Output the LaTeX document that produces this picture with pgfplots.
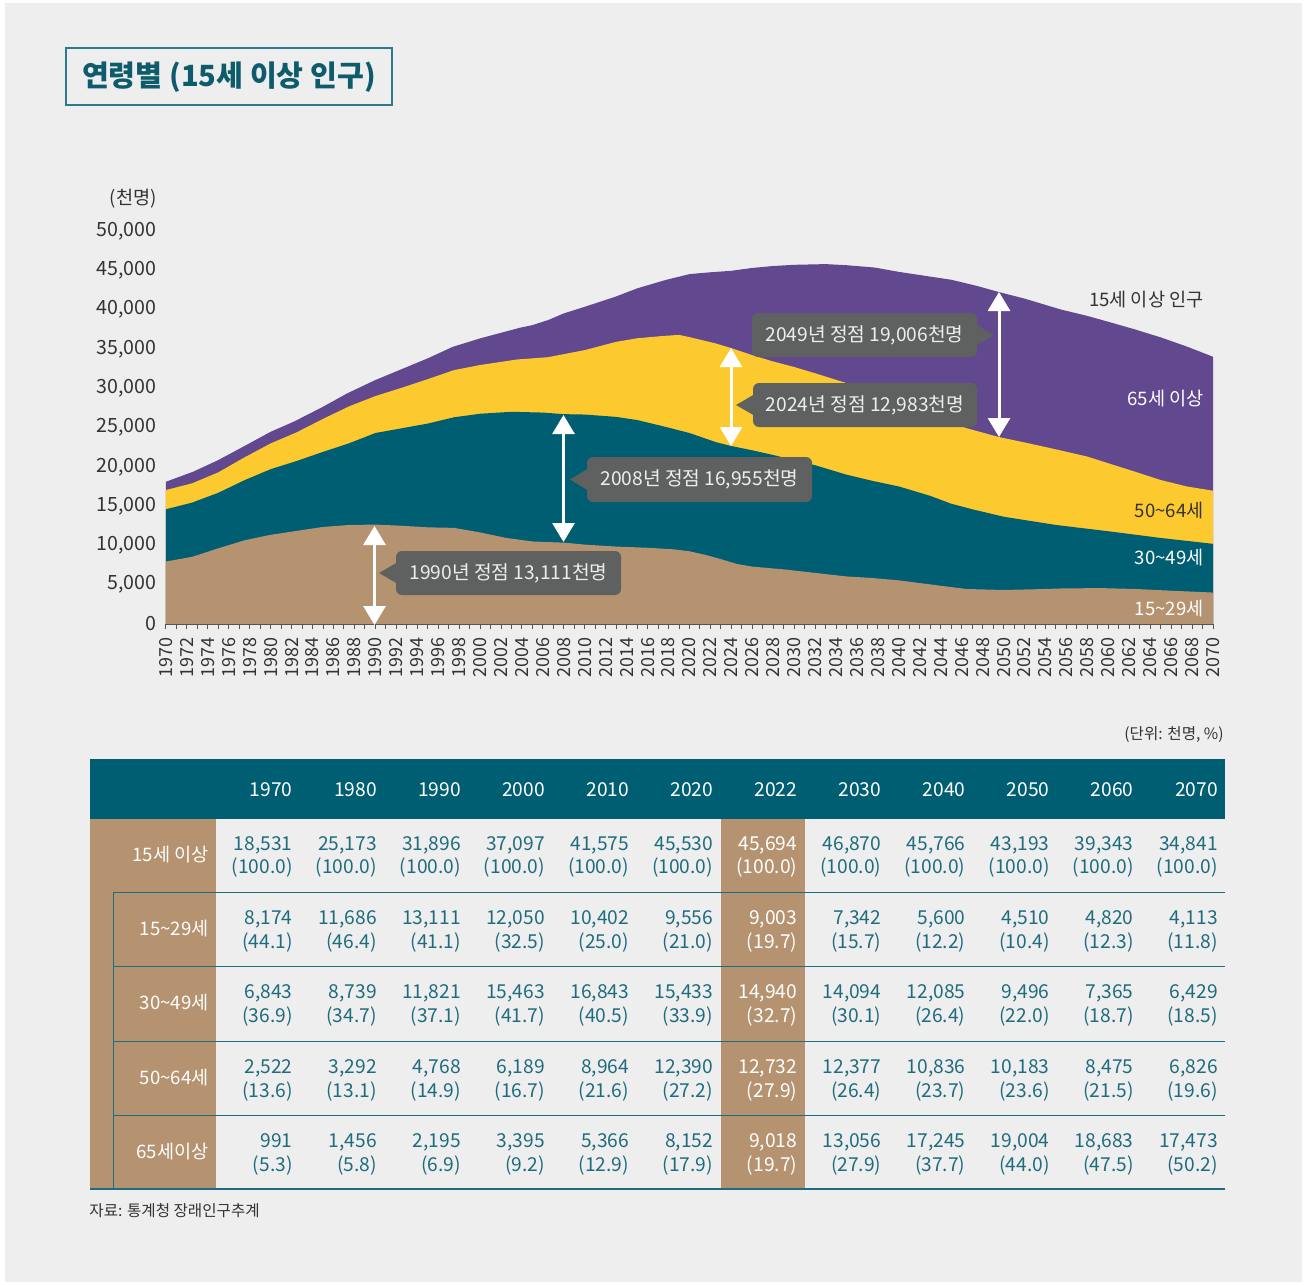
\documentclass[border=0pt]{standalone}
\usepackage{pgfplots}
\pgfplotsset{compat=1.18}
\usepackage{fontspec}
\setmainfont{Noto Sans CJK KR}
\usetikzlibrary{arrows.meta}

\definecolor{bg}{HTML}{EEEEEE}
\definecolor{cA}{HTML}{B59370}
\definecolor{cB}{HTML}{005E72}
\definecolor{cC}{HTML}{FCC92E}
\definecolor{cD}{HTML}{62488F}
\definecolor{boxg}{HTML}{5F6160}
\definecolor{boxt}{HTML}{EDEDED}
\definecolor{txt}{HTML}{333333}
\definecolor{numc}{HTML}{1F6C7F}
\definecolor{ttl}{HTML}{0E5B6C}
\definecolor{ttlb}{HTML}{2B7B8C}
\definecolor{axc}{HTML}{555555}

\newcommand\fnum{\fontsize{9.6}{11}\selectfont}
\newcommand\flab{\fontsize{9.3}{11}\selectfont}
\newcommand\fsm{\fontsize{7.8}{9}\selectfont}
\newcommand\tl{{\char"007E}}

\newcommand\trow[4]{%
  \foreach \v [count=\i] in {#3} {%
    \ifnum\i=7 \def\cc{white}\else\def\cc{numc}\fi
    \node[anchor=base east, inner sep=0pt, text=\cc, font=\fnum] at ({208.9+84.1*\i},#1) {\v};
  }%
  \foreach \v [count=\i] in {#4} {%
    \ifnum\i=7 \def\cc{white}\else\def\cc{numc}\fi
    \node[anchor=base east, inner sep=0pt, text=\cc, font=\fnum] at ({208.9+84.1*\i},#2) {(\v)};
  }%
}

\begin{document}
\begin{tikzpicture}
\begin{scope}[x=0.5pt,y=-0.5pt]
\useasboundingbox (0,0) rectangle (1307,1285);
\fill[white] (0,0) rectangle (1307,1285);
\fill[bg] (5,3) rectangle (1302,1282);
% title
\draw[ttlb, line width=0.75pt] (66,48) rectangle (392,105);
\node[font=\bfseries\fontsize{14.6}{16}\selectfont, text=ttl] at (229,77) {연령별 (15세 이상 인구)};
% unit
\node[anchor=east, inner sep=0pt, font=\flab, text=txt] at (157,199) {(천명)};
\end{scope}

\begin{axis}[
  at={(83pt,-312pt)}, anchor=south west,
  scale only axis, width=523.5pt, height=196.5pt,
  xmin=1970, xmax=2070, ymin=0, ymax=50000,
  clip=false, axis on top,
  axis x line*=bottom, axis y line*=left,
  x axis line style={-, draw=axc, line width=0.5pt},
  y axis line style={draw=none},
  xtick={1970,1972,...,2070},
  minor xtick={1971,1973,...,2069},
  ytick={0,5000,...,50000},
  scaled y ticks=false,
  tick align=outside,
  major tick length=2.5pt, minor tick length=2.5pt,
  every tick/.style={axc, line width=0.5pt},
  ytick style={draw=none},
  /pgf/number format/assume math mode=true,
  tick label style={text=txt},
  xticklabel style={rotate=90, anchor=east, inner sep=0pt, font=\fontsize{9}{10}\selectfont, /pgf/number format/1000 sep={}},
  yticklabel style={anchor=east, inner sep=0pt, font=\fontsize{9.8}{11}\selectfont, /pgf/number format/1000 sep={,}},
  xticklabel shift=4pt,
  yticklabel shift=2pt,
]
% total (15+)
\addplot[draw=none, fill=cD] coordinates {
(1970,18100) (1972.6,19380) (1975,20860) (1977.5,22650) (1980,24460) (1982.2,25740)
(1985,27640) (1987.3,29340) (1990,31040) (1992.3,32310) (1995,33800) (1997.4,35270)
(2000,36340) (2003.8,37690) (2005,38030) (2006.5,38670) (2008,39520) (2010,40360)
(2012.9,41630) (2015,42700) (2017.7,43760) (2020,44520) (2022,44750) (2024,44940)
(2026,45300) (2028,45550) (2030,45700) (2033,45790) (2035,45650) (2037.7,45350)
(2040,44800) (2042.5,44300) (2045,43800) (2047.5,43000) (2049.5,42250) (2052,41400)
(2055.5,40000) (2058,39200) (2060,38450) (2062.5,37500) (2065,36470) (2067.5,35300)
(2070,34000)} \closedcycle;
% 15-64 cumulative
\addplot[draw=none, fill=cC] coordinates {
(1970,17050) (1972.5,17900) (1975,19300) (1977.5,21200) (1980,22980) (1982.5,24400)
(1985,26100) (1987.5,27700) (1990,29000) (1992.5,30050) (1995,31150) (1997.5,32300)
(2000,32950) (2003.5,33650) (2006.5,33950) (2010,34850) (2013,35900) (2015,36350)
(2017.5,36650) (2019,36780) (2020,36500) (2022.5,35700) (2024,35100) (2026,34200)
(2028,33400) (2030,32700) (2032,31900) (2035,30650) (2037.5,29300) (2040,27900)
(2043,26500) (2046.5,24900) (2049.5,23800) (2052,23100) (2055,22220) (2058,21300)
(2060,20450) (2062.5,19400) (2065,18320) (2067.5,17500) (2070,16960)} \closedcycle;
% 15-49 cumulative
\addplot[draw=none, fill=cB] coordinates {
(1970,14600) (1972.5,15450) (1975,16700) (1977.5,18300) (1980,19700) (1982.5,20750)
(1985,21900) (1987.5,23000) (1990,24300) (1992.5,24900) (1995,25500) (1997.5,26300)
(2000,26750) (2003,27000) (2006,26900) (2008,26700) (2010,26650) (2013,26350)
(2015,25950) (2017.5,25150) (2020,24300) (2022.5,23150) (2024,22640) (2026,22100)
(2028,21500) (2030,20860) (2032,20200) (2035,19000) (2037.5,18200) (2040,17500)
(2043,16300) (2045,15300) (2047,14600) (2050,13650) (2055,12600) (2060,11800)
(2065,10950) (2070,10200)} \closedcycle;
% 15-29
\addplot[draw=none, fill=cA] coordinates {
(1970,7950) (1972.5,8550) (1975,9630) (1977.5,10650) (1980,11350) (1982.5,11850)
(1985,12350) (1987.5,12600) (1990,12650) (1992.5,12500) (1995,12300) (1997.5,12230)
(2000,11650) (2002.5,10950) (2005,10500) (2008,10350) (2010,10100) (2013,9850)
(2016,9700) (2018.5,9500) (2020,9250) (2021.5,8800) (2023,8250) (2024.5,7650)
(2026,7300) (2029,6950) (2032,6500) (2035,6050) (2037.5,5850) (2040,5550)
(2043.5,4950) (2046.5,4450) (2050,4330) (2053,4420) (2056,4540) (2059.5,4560)
(2062.5,4460) (2066,4240) (2070,4000)} \closedcycle;
\end{axis}

\begin{scope}[x=0.5pt,y=-0.5pt]
% arrows
\tikzset{dar/.style={white, line width=1.5pt, {Triangle[width=11pt,length=9.5pt]}-{Triangle[width=11pt,length=9.5pt]}}}
\draw[dar] (374.5,526) -- (374.5,625);
\draw[dar] (563.5,415) -- (563.5,542);
\draw[dar] (731,348) -- (731,446);
\draw[dar] (999,292) -- (999,437);
% boxes
\fill[boxg, rounded corners=3pt] (396,551) rectangle (621,595);
\fill[boxg] (398,562) -- (379,573) -- (398,584) -- cycle;
\node[text=boxt, font=\fnum] at (508.5,573) {1990년 정점 13,111천명};
\fill[boxg, rounded corners=3pt] (587,457) rectangle (812,502);
\fill[boxg] (589,468) -- (570,479.5) -- (589,491) -- cycle;
\node[text=boxt, font=\fnum] at (699.5,479.5) {2008년 정점 16,955천명};
\fill[boxg, rounded corners=3pt] (753,383) rectangle (977,427);
\fill[boxg] (755,394) -- (736,405) -- (755,416) -- cycle;
\node[text=boxt, font=\fnum] at (865,405) {2024년 정점 12,983천명};
\fill[boxg, rounded corners=3pt] (752,313) rectangle (977,357);
\fill[boxg] (975,324) -- (994,335) -- (975,346) -- cycle;
\node[text=boxt, font=\fnum] at (864.5,335) {2049년 정점 19,006천명};
% series labels
\node[anchor=east, inner sep=0pt, font=\flab, text=txt] at (1204,300) {15세 이상 인구};
\node[anchor=east, inner sep=0pt, font=\flab, text=white] at (1204,399) {65세 이상};
\node[anchor=east, inner sep=0pt, font=\flab, text=txt] at (1204,511) {50\tl 64세};
\node[anchor=east, inner sep=0pt, font=\flab, text=white] at (1204,558) {30\tl 49세};
\node[anchor=east, inner sep=0pt, font=\flab, text=white] at (1204,609) {15\tl 29세};

% table
\node[anchor=east, inner sep=0pt, font=\fsm, text=txt] at (1224,735) {(단위: 천명, \%)};
\fill[cB] (90,759) rectangle (1225,819);
\fill[cA] (90,819) rectangle (216,1189);
\fill[cA] (721,819) rectangle (805,1189);
\draw[numc, line width=0.5pt] (113.5,892) -- (113.5,1189);
\foreach \yy in {892,966,1041,1115} \draw[numc, line width=0.5pt] (113.5,\yy) -- (1225,\yy);
\draw[numc, line width=0.75pt] (90,1189) -- (1225,1189);
\foreach \v [count=\i] in {1970,1980,1990,2000,2010,2020,2022,2030,2040,2050,2060,2070}
  \node[anchor=base east, inner sep=0pt, text=white, font=\fnum] at ({208.9+84.1*\i},796) {\v};
\node[anchor=east, inner sep=0pt, font=\flab, text=white] at (209,855) {15세 이상};
\node[anchor=east, inner sep=0pt, font=\flab, text=white] at (209,929) {15\tl 29세};
\node[anchor=east, inner sep=0pt, font=\flab, text=white] at (209,1003) {30\tl 49세};
\node[anchor=east, inner sep=0pt, font=\flab, text=white] at (209,1078) {50\tl 64세};
\node[anchor=east, inner sep=0pt, font=\flab, text=white] at (209,1152) {65세이상};
\trow{850}{873.5}{{18,531},{25,173},{31,896},{37,097},{41,575},{45,530},{45,694},{46,870},{45,766},{43,193},{39,343},{34,841}}{100.0,100.0,100.0,100.0,100.0,100.0,100.0,100.0,100.0,100.0,100.0,100.0}
\trow{924}{948}{{8,174},{11,686},{13,111},{12,050},{10,402},{9,556},{9,003},{7,342},{5,600},{4,510},{4,820},{4,113}}{44.1,46.4,41.1,32.5,25.0,21.0,19.7,15.7,12.2,10.4,12.3,11.8}
\trow{998.5}{1022.5}{{6,843},{8,739},{11,821},{15,463},{16,843},{15,433},{14,940},{14,094},{12,085},{9,496},{7,365},{6,429}}{36.9,34.7,37.1,41.7,40.5,33.9,32.7,30.1,26.4,22.0,18.7,18.5}
\trow{1073}{1097}{{2,522},{3,292},{4,768},{6,189},{8,964},{12,390},{12,732},{12,377},{10,836},{10,183},{8,475},{6,826}}{13.6,13.1,14.9,16.7,21.6,27.2,27.9,26.4,23.7,23.6,21.5,19.6}
\trow{1147}{1171}{{991},{1,456},{2,195},{3,395},{5,366},{8,152},{9,018},{13,056},{17,245},{19,004},{18,683},{17,473}}{5.3,5.8,6.9,9.2,12.9,17.9,19.7,27.9,37.7,44.0,47.5,50.2}
\node[anchor=west, inner sep=0pt, font=\fsm, text=txt] at (89,1211) {자료: 통계청 장래인구추계};
\end{scope}
\end{tikzpicture}
\end{document}
